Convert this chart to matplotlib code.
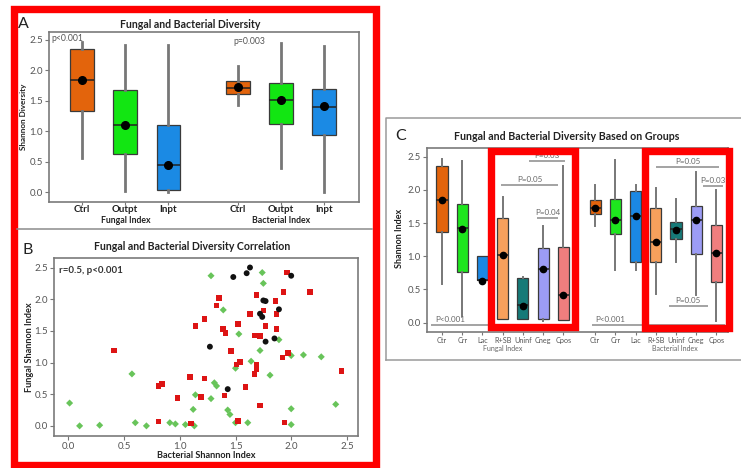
import matplotlib
matplotlib.use("Agg")
import matplotlib.pyplot as plt
from matplotlib.patches import Rectangle

W, H = 741, 468
plt.rcParams['font.family'] = ['Lato', 'DejaVu Sans']

# ---------------- Panel A: diversity by index ----------------
a_labels = ["Ctrl", "Outpt", "Inpt"]
a_fun_q1 = [1.33, 0.63, 0.04]
a_fun_med = [1.84, 1.10, 0.45]
a_fun_q3 = [2.35, 1.67, 1.11]
a_fun_lo = [0.57, 0.02, 0.00]
a_fun_hi = [2.47, 2.41, 2.42]
a_fun_mean = [1.84, 1.11, 0.45]

a_bac_q1 = [1.62, 1.12, 0.94]
a_bac_med = [1.71, 1.51, 1.40]
a_bac_q3 = [1.83, 1.79, 1.69]
a_bac_lo = [1.43, 0.39, 0.00]
a_bac_hi = [2.07, 2.45, 2.40]
a_bac_mean = [1.72, 1.52, 1.41]
a_colors = ["#E3640C", "#12E612", "#1B8AE4"]

# ---------------- Panel B: correlation scatter ----------------
black_x = [1.63, 1.48, 1.60, 2.00, 1.75, 1.77, 1.72, 1.74, 1.89, 1.85, 1.77, 1.27, 1.43]
black_y = [2.50, 2.35, 2.41, 2.37, 1.98, 1.97, 1.77, 1.72, 1.84, 1.38, 1.33, 1.25, 0.58]

red_x = [0.41, 0.81, 0.84, 0.81, 0.98, 1.09, 1.14, 1.22, 1.22, 1.19, 1.10, 1.33,
         1.35, 1.39, 1.41, 1.46, 1.40, 1.52, 1.54, 1.51, 1.52, 1.59, 1.63, 1.67,
         1.69, 1.72, 1.69, 1.69, 1.67, 1.72, 1.75, 1.77, 1.86, 1.87, 1.87, 1.93,
         1.96, 1.97, 1.92, 1.94, 2.17, 2.45]
red_y = [1.19, 0.63, 0.66, 0.07, 0.44, 0.77, 1.58, 1.69, 0.75, 0.46, 0.04, 1.90,
         2.02, 1.53, 1.47, 1.18, 0.48, 1.61, 1.01, 0.97, 0.08, 0.61, 1.77, 1.43,
         2.07, 1.42, 0.97, 0.89, 0.82, 0.32, 1.82, 1.58, 1.97, 1.77, 1.53, 2.11,
         2.42, 1.15, 1.08, 0.05, 2.11, 0.87]

green_x = [0.01, 0.10, 0.28, 0.57, 0.60, 0.70, 0.91, 0.96, 1.05, 1.12, 1.14, 1.13,
           1.28, 1.28, 1.31, 1.33, 1.39, 1.43, 1.45, 1.53, 1.50, 1.50, 1.61, 1.64,
           1.72, 1.74, 1.75, 1.81, 1.89, 2.00, 2.00, 2.00, 2.11, 2.27, 2.40]
green_y = [0.36, 0.00, 0.01, 0.82, 0.05, 0.00, 0.05, 0.03, 0.02, 0.26, 0.49, 0.00,
           2.37, 0.43, 0.68, 0.63, 1.83, 0.25, 0.18, 1.45, 0.91, 0.05, 0.05, 1.02,
           1.19, 2.42, 2.25, 0.80, 1.36, 1.11, 0.27, 0.02, 1.12, 1.09, 0.34]

# ---------------- Panel C: diversity by group ----------------
c_labels = ["Ctr", "Crr", "Lac", "R+SB", "Uninf", "Cneg", "Cpos"]
c_fun_q1 = [1.36, 0.76, 0.64, 0.06, 0.06, 0.06, 0.04]
c_fun_med = [1.85, 1.42, 0.64, 1.02, 0.26, 0.81, 0.41]
c_fun_q3 = [2.36, 1.78, 1.01, 1.57, 0.67, 1.12, 1.14]
c_fun_lo = [0.59, 0.10, 0.64, 0.06, 0.06, 0.03, 0.04]
c_fun_hi = [2.47, 2.44, 1.01, 1.89, 0.69, 1.46, 2.36]
c_fun_mean = [1.85, 1.41, 0.63, 1.02, 0.25, 0.81, 0.41]

c_bac_q1 = [1.64, 1.33, 0.92, 0.91, 1.26, 1.03, 0.61]
c_bac_med = [1.73, 1.54, 1.61, 1.21, 1.41, 1.55, 1.05]
c_bac_q3 = [1.84, 1.86, 1.99, 1.73, 1.52, 1.75, 1.47]
c_bac_lo = [1.45, 0.80, 0.80, 0.43, 0.92, 0.42, 0.03]
c_bac_hi = [2.07, 2.45, 2.07, 2.03, 1.86, 2.27, 2.00]
c_bac_mean = [1.73, 1.54, 1.61, 1.21, 1.40, 1.55, 1.05]
c_colors = ["#E3640C", "#1EE61E", "#1B88E4", "#F7A05C", "#167A78", "#9C9CF5", "#F07E7E"]

# significance brackets: (x_start, x_end, y, label)
c_brackets = [
    (0.45, 7.30, -0.03, "P<0.001"),
    (3.90, 6.75, 2.07, "P=0.05"),
    (5.70, 6.74, 1.57, "P=0.04"),
    (5.30, 7.10, 2.43, "P=0.03"),
    (8.40, 15.0, -0.035, "P<0.001"),
    (11.6, 14.7, 2.35, "P=0.05"),
    (13.9, 14.9, 2.06, "P=0.03"),
    (12.2, 14.15, 0.25, "P=0.05"),
]

fig = plt.figure(figsize=(W / 100, H / 100), dpi=100)


def px_axes(x0, y0, x1, y1):
    return fig.add_axes([x0 / W, 1 - y1 / H, (x1 - x0) / W, (y1 - y0) / H])


def style_axes(ax, labelsize):
    for s in ax.spines.values():
        s.set_color("#7a7a7a")
        s.set_linewidth(1.2)
    ax.tick_params(colors="#777777", labelcolor="#555555", labelsize=labelsize,
                   length=3, width=0.8, pad=1.5)


def draw_boxes(ax, pos, q1, med, q3, lo, hi, mean, colors, width, whisk_lw, dot):
    stats = [dict(q1=a, med=b, q3=c, whislo=d, whishi=e, mean=f, fliers=[])
             for a, b, c, d, e, f in zip(q1, med, q3, lo, hi, mean)]
    bp = ax.bxp(stats, positions=pos, widths=width, patch_artist=True,
                showmeans=True, showcaps=False, showfliers=False,
                boxprops=dict(edgecolor="#3a3a3a", linewidth=0.9),
                whiskerprops=dict(color="#777777", linewidth=whisk_lw),
                medianprops=dict(color="#222222", linewidth=1.1),
                meanprops=dict(marker="o", markerfacecolor="black",
                               markeredgecolor="black", markersize=dot))
    for patch, col in zip(bp["boxes"], colors):
        patch.set_facecolor(col)


# ---- A ----
axA = px_axes(49, 32, 359, 202)
posA_f = [1, 2, 3]
posA_b = [4.6, 5.6, 6.6]
draw_boxes(axA, posA_f, a_fun_q1, a_fun_med, a_fun_q3, a_fun_lo, a_fun_hi,
           a_fun_mean, a_colors, 0.55, 2.0, 5.5)
draw_boxes(axA, posA_b, a_bac_q1, a_bac_med, a_bac_q3, a_bac_lo, a_bac_hi,
           a_bac_mean, a_colors, 0.55, 2.0, 5.5)
axA.set_xlim(0.24, 7.4)
axA.set_ylim(-0.16, 2.63)
axA.set_yticks([0.0, 0.5, 1.0, 1.5, 2.0, 2.5])
axA.set_yticklabels(["0.0", "0.5", "1.0", "1.5", "2.0", "2.5"])
axA.set_xticks(posA_f + posA_b)
axA.set_xticklabels(a_labels + a_labels)
style_axes(axA, 7)
axA.tick_params(axis="x", length=2, pad=0.3)
for t in axA.get_xticklabels():
    t.set_fontweight("bold")
    t.set_color("#222222")
    t.set_fontsize(7)
axA.text(0.008, 0.99, "p<0.001", transform=axA.transAxes, fontsize=6.2,
         color="#555555", ha="left", va="top")
axA.text(0.595, 0.97, "p=0.003", transform=axA.transAxes, fontsize=6.2,
         color="#555555", ha="left", va="top")

# ---- B ----
axB = px_axes(54, 258, 358, 436)
axB.scatter(green_x, green_y, marker="D", s=13, c="#68C45A", edgecolors="none", zorder=3)
axB.scatter(red_x, red_y, marker="s", s=16, c="#DD1414", edgecolors="none", zorder=4)
axB.scatter(black_x, black_y, marker="o", s=18, c="#111111", edgecolors="none", zorder=5)
axB.set_xlim(-0.13, 2.60)
axB.set_ylim(-0.16, 2.65)
axB.set_xticks([0.0, 0.5, 1.0, 1.5, 2.0, 2.5])
axB.set_xticklabels(["0.0", "0.5", "1.0", "1.5", "2.0", "2.5"])
axB.set_yticks([0.0, 0.5, 1.0, 1.5, 2.0, 2.5])
axB.set_yticklabels(["0.0", "0.5", "1.0", "1.5", "2.0", "2.5"])
style_axes(axB, 7)
axB.text(0.015, 0.955, "r=0.5, p<0.001", transform=axB.transAxes, fontsize=7,
         fontweight="bold", color="#333333", ha="left", va="top")

# ---- C ----
axC = px_axes(427, 148, 728, 332)
posC_f = [1, 2, 3, 4, 5, 6, 7]
posC_b = [8.57, 9.57, 10.57, 11.57, 12.57, 13.57, 14.57]
draw_boxes(axC, posC_f, c_fun_q1, c_fun_med, c_fun_q3, c_fun_lo, c_fun_hi,
           c_fun_mean, c_colors, 0.55, 1.4, 4.5)
draw_boxes(axC, posC_b, c_bac_q1, c_bac_med, c_bac_q3, c_bac_lo, c_bac_hi,
           c_bac_mean, c_colors, 0.55, 1.4, 4.5)
for x0, x1, y, lab in c_brackets:
    axC.plot([x0, x1], [y, y], color="#8a8a8a", lw=1.1, solid_capstyle="butt", zorder=1)
    if lab == "P<0.001":
        axC.text(x0 + 0.2, y + 0.03, lab, fontsize=5.8, color="#666666",
                 ha="left", va="bottom")
    else:
        axC.text((x0 + x1) / 2, y + 0.03, lab, fontsize=5.8, color="#666666",
                 ha="center", va="bottom")
axC.set_xlim(0.26, 15.14)
axC.set_ylim(-0.14, 2.63)
axC.set_yticks([0.0, 0.5, 1.0, 1.5, 2.0, 2.5])
axC.set_yticklabels(["0.0", "0.5", "1.0", "1.5", "2.0", "2.5"])
axC.set_xticks(posC_f + posC_b)
axC.set_xticklabels(c_labels + c_labels)
style_axes(axC, 6.8)
axC.tick_params(axis="x", length=2.5, pad=0.8)
for t in axC.get_xticklabels():
    t.set_fontsize(5.2)

# ---- overlay: frames, panel letters, titles, axis labels ----
ov = fig.add_axes([0, 0, 1, 1], zorder=10)
ov.set_xlim(0, W)
ov.set_ylim(H, 0)
ov.axis("off")
ov.patch.set_alpha(0)

# thin gray panel borders
ov.plot([17, 372], [229, 229], color="#8c8c8c", lw=1.1)
ov.plot([385.5, 385.5, 741], [360, 118, 118], color="#9a9a9a", lw=1.1)
ov.plot([385.5, 741], [360, 360], color="#9a9a9a", lw=1.1)

# red highlight frames
red_lw = 5.3
ov.add_patch(Rectangle((13.7, 9.2), 362.1, 455.8, fill=False, ec="#FF0000",
                       lw=red_lw, joinstyle="miter"))
ov.add_patch(Rectangle((491.3, 150.7), 83.5, 176.5, fill=False, ec="#FF0000",
                       lw=red_lw, joinstyle="miter"))
ov.add_patch(Rectangle((644.5, 150.7), 84.3, 177.5, fill=False, ec="#FF0000",
                       lw=red_lw, joinstyle="miter"))

txt = dict(color="#222222", ha="center", va="center")
ov.text(23, 24, "A", fontsize=11.5, **txt)
ov.text(28, 250, "B", fontsize=11.5, **txt)
ov.text(401, 136, "C", fontsize=11.5, **txt)

ov.text(190, 24, "Fungal and Bacterial Diversity", fontsize=7.6, fontweight="bold", **txt)
ov.text(192, 247, "Fungal and Bacterial Diversity Correlation", fontsize=7.6,
        fontweight="bold", **txt)
ov.text(567, 136, "Fungal and Bacterial Diversity Based on Groups", fontsize=7.7,
        fontweight="bold", **txt)

ov.text(24, 117, "Shannon Diversity", fontsize=5.9, fontweight="bold", rotation=90, **txt)
ov.text(126, 220.5, "Fungal Index", fontsize=6.3, fontweight="bold", **txt)
ov.text(281, 220.5, "Bacterial Index", fontsize=6.3, fontweight="bold", **txt)

ov.text(29, 347, "Fungal Shannon Index", fontsize=6.6, fontweight="bold", rotation=90, **txt)
ov.text(206, 455, "Bacterial Shannon Index", fontsize=6.6, fontweight="bold", **txt)

ov.text(400, 238, "Shannon Index", fontsize=6.5, fontweight="bold", rotation=90, **txt)
ov.text(503, 348.5, "Fungal Index", fontsize=5.0, color="#666666", ha="center", va="center")
ov.text(675, 348.5, "Bacterial Index", fontsize=5.0, color="#666666", ha="center", va="center")

fig.savefig("out.png", dpi=100)
